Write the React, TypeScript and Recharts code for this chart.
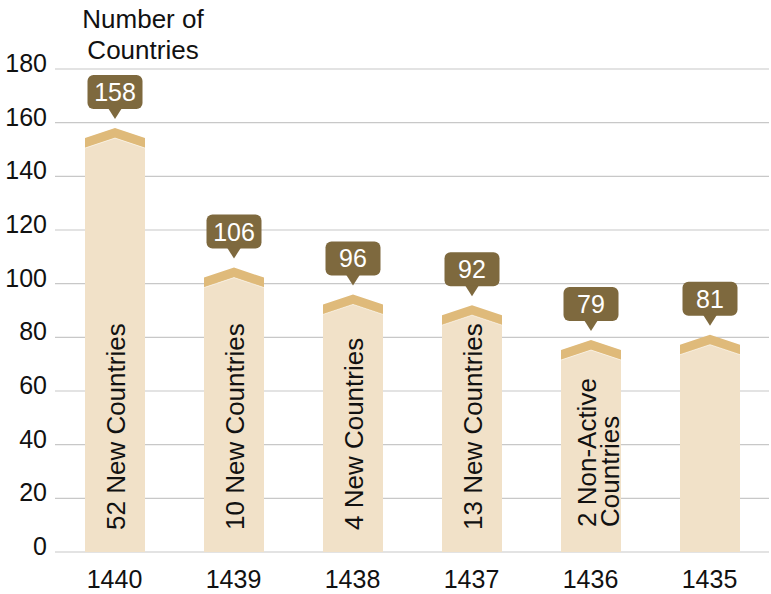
import { BarChart, Bar, XAxis, YAxis, CartesianGrid, LabelList } from 'recharts'

const YEARS = ['1440', '1439', '1438', '1437', '1436', '1435']
const COUNTRIES = [158, 106, 96, 92, 79, 81]
const NOTES: string[][] = [
  ['52 New Countries'],
  ['10 New Countries'],
  ['4 New Countries'],
  ['13 New Countries'],
  ['2 Non-Active', 'Countries'],
  [],
]
const Y_TICKS = [0, 20, 40, 60, 80, 100, 120, 140, 160, 180]

const FONT = '"Liberation Sans", Arial, Helvetica, sans-serif'
const BAND = '#dfba7a'
const BODY = '#f1e1c8'
const BUBBLE = '#7e693e'

const data = YEARS.map((year, i) => ({ year, value: COUNTRIES[i], note: NOTES[i] }))

function ChevronBar(props: any) {
  const { x, y, width, height, payload } = props
  const cx = x + width / 2
  const bottom = y + height
  const side = y + 10
  const t = 10
  const lines: string[] = payload.note || []
  const base = lines.length > 1 ? 527 : 530
  const offs = lines.length > 1 ? [5, 28] : [10]
  return (
    <g>
      <polygon
        points={`${x},${side + t} ${cx},${y + t} ${x + width},${side + t} ${x + width},${bottom} ${x},${bottom}`}
        fill={BODY}
      />
      <polygon
        points={`${x},${side} ${cx},${y} ${x + width},${side} ${x + width},${side + t} ${cx},${y + t} ${x},${side + t}`}
        fill={BAND}
      />
      <polyline
        points={`${x},${side + t} ${cx},${y + t} ${x + width},${side + t}`}
        fill="none" stroke="#fff" strokeWidth={0.8} strokeOpacity={0.7}
      />
      {lines.map((s, i) => (
        <text
          key={i}
          transform={`translate(${cx + offs[i]},${base}) rotate(-90)`}
          x={0} y={0}
          fontSize={26} fontFamily={FONT} fill="#111"
        >
          {s}
        </text>
      ))}
    </g>
  )
}

function Bubble(props: any) {
  const { x, y, width, value } = props
  const cx = x + width / 2
  const bw = 55
  const bh = 34
  const bb = y - 19
  return (
    <g>
      <rect x={cx - bw / 2} y={bb - bh} width={bw} height={bh} rx={6} fill={BUBBLE} />
      <polygon points={`${cx - 7},${bb - 1} ${cx + 7},${bb - 1} ${cx},${y - 9}`} fill={BUBBLE} />
      <text x={cx} y={bb - bh / 2 + 9} textAnchor="middle" fontSize={25} fontFamily={FONT} fill="#fff">
        {value}
      </text>
    </g>
  )
}

function YTick(props: any) {
  const { x, y, payload } = props
  return (
    <text x={x} y={y + 3} textAnchor="end" fontSize={25} fontFamily={FONT} fill="#111">
      {payload.value}
    </text>
  )
}

function XTick(props: any) {
  const { x, payload } = props
  return (
    <text x={x} y={588} textAnchor="middle" fontSize={25} fontFamily={FONT} fill="#111">
      {payload.value}
    </text>
  )
}

export default function App() {
  return (
    <div style={{ position: 'absolute', left: 0, top: 0, width: 771, height: 594, background: '#fff' }}>
      <div
        style={{
          position: 'absolute', left: 63, top: 4, width: 160, textAlign: 'center',
          fontFamily: FONT, fontSize: 26, lineHeight: '31px', color: '#111',
        }}
      >
        Number of<br />Countries
      </div>
      <BarChart width={771} height={594} data={data} margin={{ top: 69, right: 2, left: 0, bottom: 0 }}>
        <CartesianGrid vertical={false} stroke="#c8c8c8" strokeWidth={1.2} />
        <XAxis dataKey="year" height={42} axisLine={false} tickLine={false} tick={<XTick />} interval={0} />
        <YAxis
          width={55} domain={[0, 180]} ticks={Y_TICKS} axisLine={false} tickLine={false}
          tickSize={0} tickMargin={8} tick={<YTick />} interval={0}
        />
        <Bar dataKey="value" barSize={60} shape={<ChevronBar />} isAnimationActive={false}>
          <LabelList dataKey="value" content={<Bubble />} />
        </Bar>
      </BarChart>
    </div>
  )
}
